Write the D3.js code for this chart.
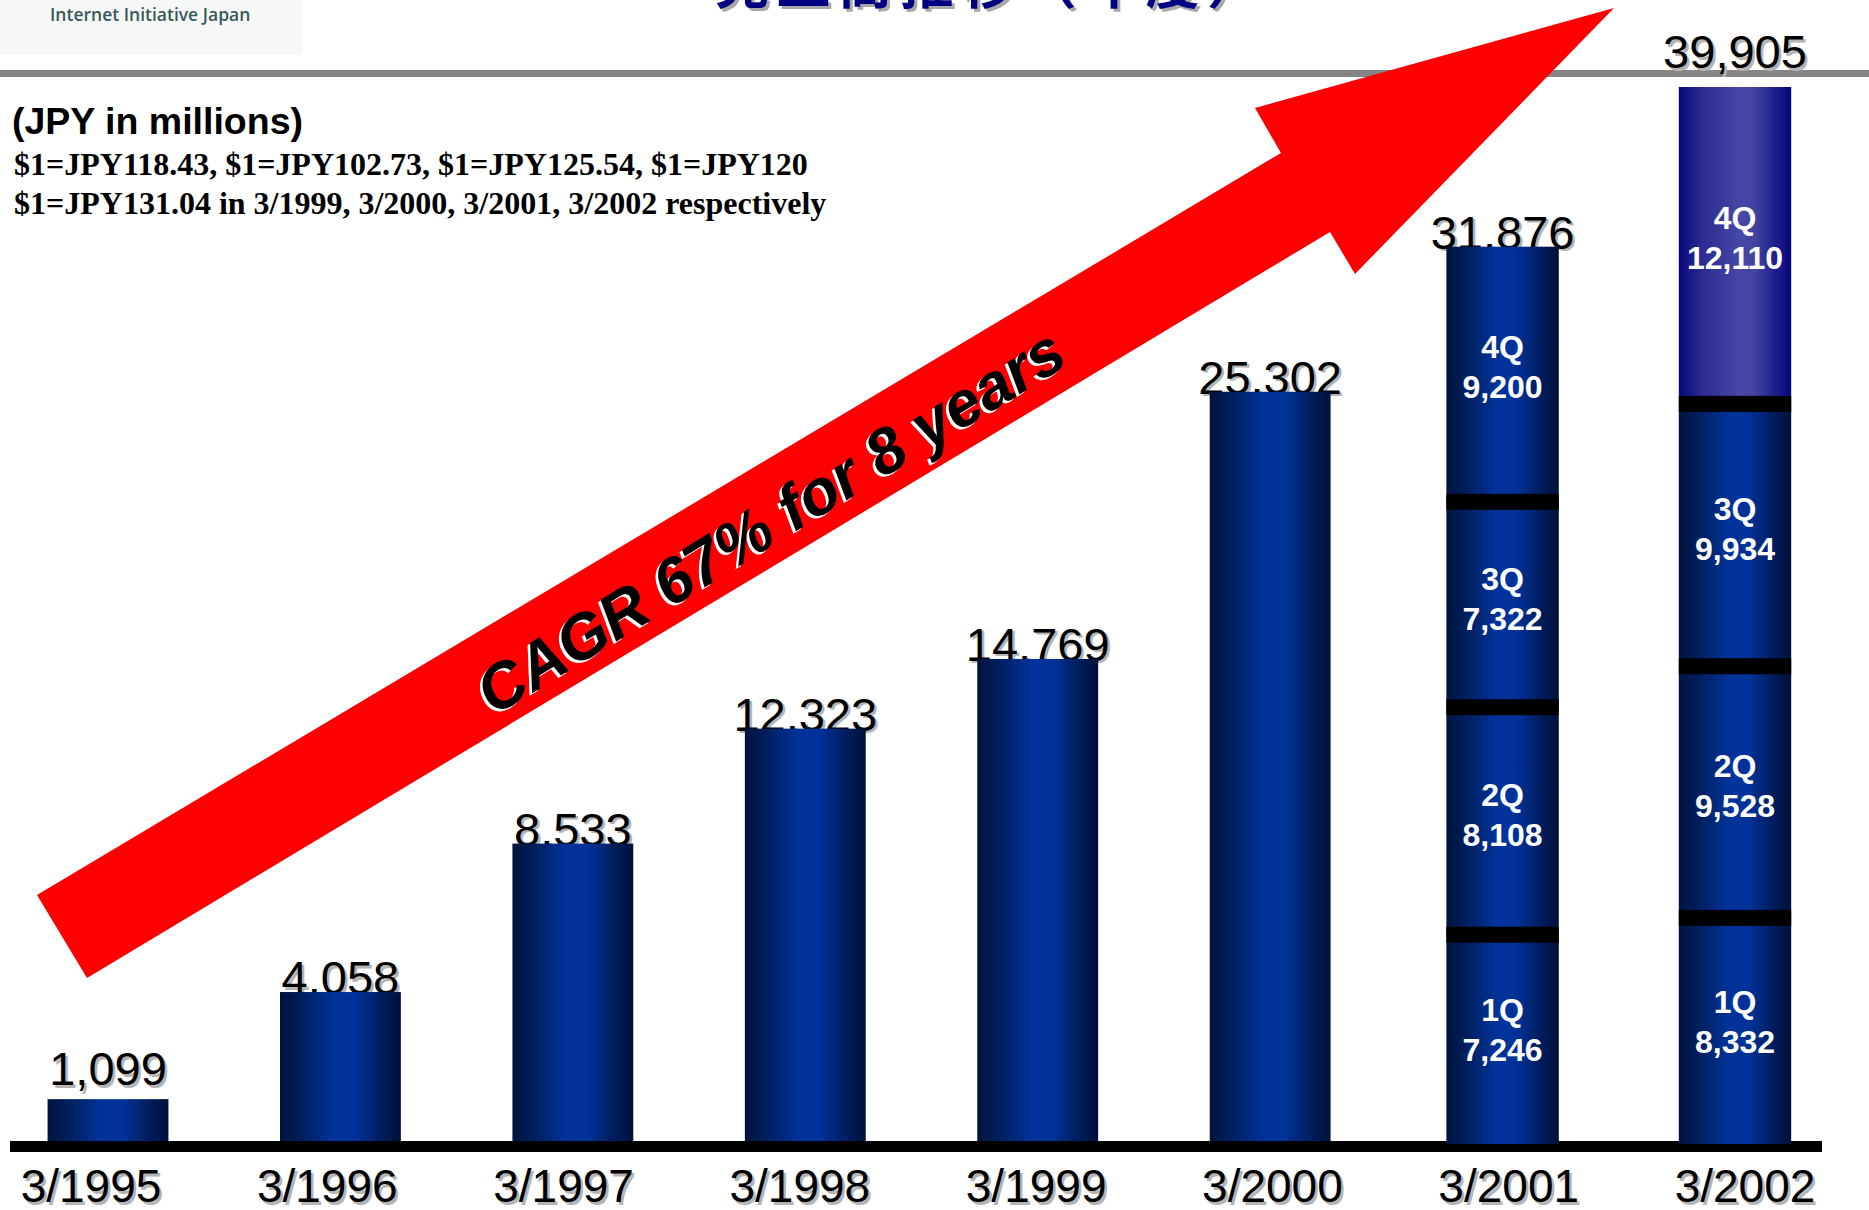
<!DOCTYPE html>
<html><head><meta charset="utf-8">
<script src="https://cdn.jsdelivr.net/npm/d3@7"></script>
<style>html,body{margin:0;padding:0;background:#fff;overflow:hidden;} svg{display:block;}</style>
</head><body>
<svg id="chart" width="1869" height="1210"></svg>
<script>
// ---- data ----
const categories = ["3/1995","3/1996","3/1997","3/1998","3/1999","3/2000","3/2001","3/2002"];
const totals = [1099, 4058, 8533, 12323, 14769, 25302, 31876, 39905];
const quarterNames = ["1Q","2Q","3Q","4Q"];
const quarters2001 = [7246, 8108, 7322, 9200];
const quarters2002 = [8332, 9528, 9934, 12110];
const stackedCategories = ["3/2001","3/2002"];
const stackedValues = [quarters2001, quarters2002];
const titleText = "売上高推移（年度）";
const unitText = "(JPY in millions)";
const rateLines = ["$1=JPY118.43, $1=JPY102.73, $1=JPY125.54, $1=JPY120",
                   "$1=JPY131.04 in 3/1999, 3/2000, 3/2001, 3/2002 respectively"];
const cagrText = "CAGR 67% for 8 years";
const logoText = "Internet Initiative Japan";

// ---- layout ----
const W = 1869, H = 1210;
const baseY = 1141, topY = 87;
const ruleTop = 70, ruleH = 7;
const svg = d3.select("#chart");
const fmt = d3.format(",");

const x = d3.scalePoint().domain(categories).range([108, 1735]);
const xLabel = d3.scalePoint().domain(categories).range([91, 1745]);
const barW = x.step() * 0.52;
const y = d3.scaleSymlog().constant(38000).domain([0, d3.max(totals)]).range([baseY, topY]);

// gradients
const defs = svg.append("defs");
function grad(id, stops) {
  const g = defs.append("linearGradient").attr("id", id).attr("x1","0%").attr("x2","100%").attr("y1","0%").attr("y2","0%");
  stops.forEach(s => g.append("stop").attr("offset", s[0]).attr("stop-color", s[1]));
}
grad("blueGrad", [["0%","#00133c"],["18%","#001f5e"],["45%","#00339a"],["62%","#003299"],["85%","#001c5a"],["100%","#00113a"]]);
grad("purpleGrad", [["0%","#08087c"],["20%","#2a2a90"],["55%","#4848a6"],["68%","#4242a2"],["88%","#1a1a88"],["100%","#06067c"]]);

// logo
svg.append("rect").attr("x",0).attr("y",0).attr("width",302).attr("height",55).attr("fill","#f6f8f8");
svg.append("text").attr("x",50).attr("y",21).attr("font-family","'Open Sans', sans-serif").attr("font-weight",600)
  .attr("font-size",17.5).attr("fill","#3a5858").text(logoText);

// title (cut off at top)
[["#a8a8a8",3],["#000080",0]].forEach(([c,o]) => {
  svg.append("text").attr("x",715+o).attr("y",4+o).attr("font-family","'Noto Sans CJK JP', sans-serif")
    .attr("font-weight",700).attr("font-size",54).attr("letter-spacing",7.5).attr("fill",c).text(titleText);
});

// gray rule
svg.append("rect").attr("x",0).attr("y",ruleTop).attr("width",W).attr("height",ruleH).attr("fill","#858585");

// unit + rates
svg.append("text").attr("x",12).attr("y",134).attr("font-family","'Liberation Sans', Arial, sans-serif")
  .attr("font-weight",700).attr("font-size",37.5).attr("fill","#000").text(unitText);
rateLines.forEach((t,i) => {
  svg.append("text").attr("x",14).attr("y",175 + i*39).attr("font-family","'Liberation Serif', 'Times New Roman', serif")
    .attr("font-weight",700).attr("font-size",32).attr("fill","#000").text(t);
});

// red arrow (annotation)
const arrowPts = [[37,895],[1281,153],[1255,108],[1614,8],[1355,274],[1330,232],[87,978]];
svg.append("path").attr("d", d3.line()(arrowPts) + "Z").attr("fill","#ff0000");

// CAGR text
const cx = 782, cy = 540, ang = -31.5;
[["#ffffff",-2.5,2.5],["#000000",0,0]].forEach(([c,dx,dy]) => {
  svg.append("text").attr("transform",`translate(${cx+dx},${cy+dy}) rotate(${ang})`)
    .attr("text-anchor","middle").attr("font-family","'Liberation Sans', Arial, sans-serif")
    .attr("font-weight",700).attr("font-style","italic").attr("font-size",64).attr("fill",c).text(cagrText);
});

// value labels (drawn under bars)
const labelG = svg.append("g");
categories.forEach((c,i) => {
  const top = y(totals[i]);
  let ly = top + 2;
  if (baseY - top < 60) ly = top - 14;
  if (ly - 36 < ruleTop + ruleH) ly = ruleTop - 2;
  [["#b4b4b4",2.5],["#000000",0]].forEach(([col,o]) => {
    labelG.append("text").attr("x", x(c) + o).attr("y", ly + o).attr("text-anchor","middle")
      .attr("font-family","'Liberation Sans', Arial, sans-serif").attr("font-size",47).attr("fill",col)
      .text(fmt(totals[i]));
  });
});

// axis baseline
svg.append("rect").attr("x",10).attr("y",baseY).attr("width",1812).attr("height",11).attr("fill","#000");

// simple bars
const simple = categories.filter(c => !stackedCategories.includes(c));
svg.append("g").selectAll("rect").data(simple).join("rect")
  .attr("x", c => x(c) - barW/2).attr("width", barW)
  .attr("y", c => y(totals[categories.indexOf(c)]))
  .attr("height", c => baseY - y(totals[categories.indexOf(c)]))
  .attr("fill","url(#blueGrad)");

// stacked bars
const sW = barW * 0.93;
stackedCategories.forEach((c, si) => {
  const vals = stackedValues[si];
  const tot = d3.sum(vals);
  const sub = d3.scaleLinear().domain([0, tot]).range([baseY, y(totals[categories.indexOf(c)])]);
  const g = svg.append("g");
  let cum = 0;
  const segs = vals.map((v,qi) => { const s = {q: quarterNames[qi], v, y0: cum, y1: cum + v}; cum += v; return s; });
  segs.forEach((s, qi) => {
    const isPurple = (si === 1 && qi === 3);
    g.append("rect").attr("x", x(c) - sW/2).attr("width", sW)
      .attr("y", sub(s.y1)).attr("height", sub(s.y0) - sub(s.y1) + (qi === 0 ? 3 : 0))
      .attr("fill", isPurple ? "url(#purpleGrad)" : "url(#blueGrad)");
  });
  segs.slice(1).forEach(s => {
    g.append("rect").attr("x", x(c) - sW/2).attr("width", sW)
      .attr("y", sub(s.y0) - 11).attr("height", 16).attr("fill", "#000");
  });
  segs.forEach(s => {
    const mid = (sub(s.y0) + sub(s.y1)) / 2;
    const b1 = mid - 18;
    const t = g.append("text").attr("text-anchor","middle").attr("font-family","'Liberation Sans', Arial, sans-serif")
      .attr("font-weight",700).attr("font-size",32).attr("fill","#fff");
    t.append("tspan").attr("x", x(c)).attr("y", b1).text(s.q);
    t.append("tspan").attr("x", x(c)).attr("y", b1 + 40).text(fmt(s.v));
  });
});

// x labels
categories.forEach(c => {
  [["#b4b4b4",2.5],["#000000",0]].forEach(([col,o]) => {
    svg.append("text").attr("x", xLabel(c) + o).attr("y", 1202 + o).attr("text-anchor","middle")
      .attr("font-family","'Liberation Sans', Arial, sans-serif").attr("font-size",46).attr("fill",col).text(c);
  });
});
</script>
</body></html>
